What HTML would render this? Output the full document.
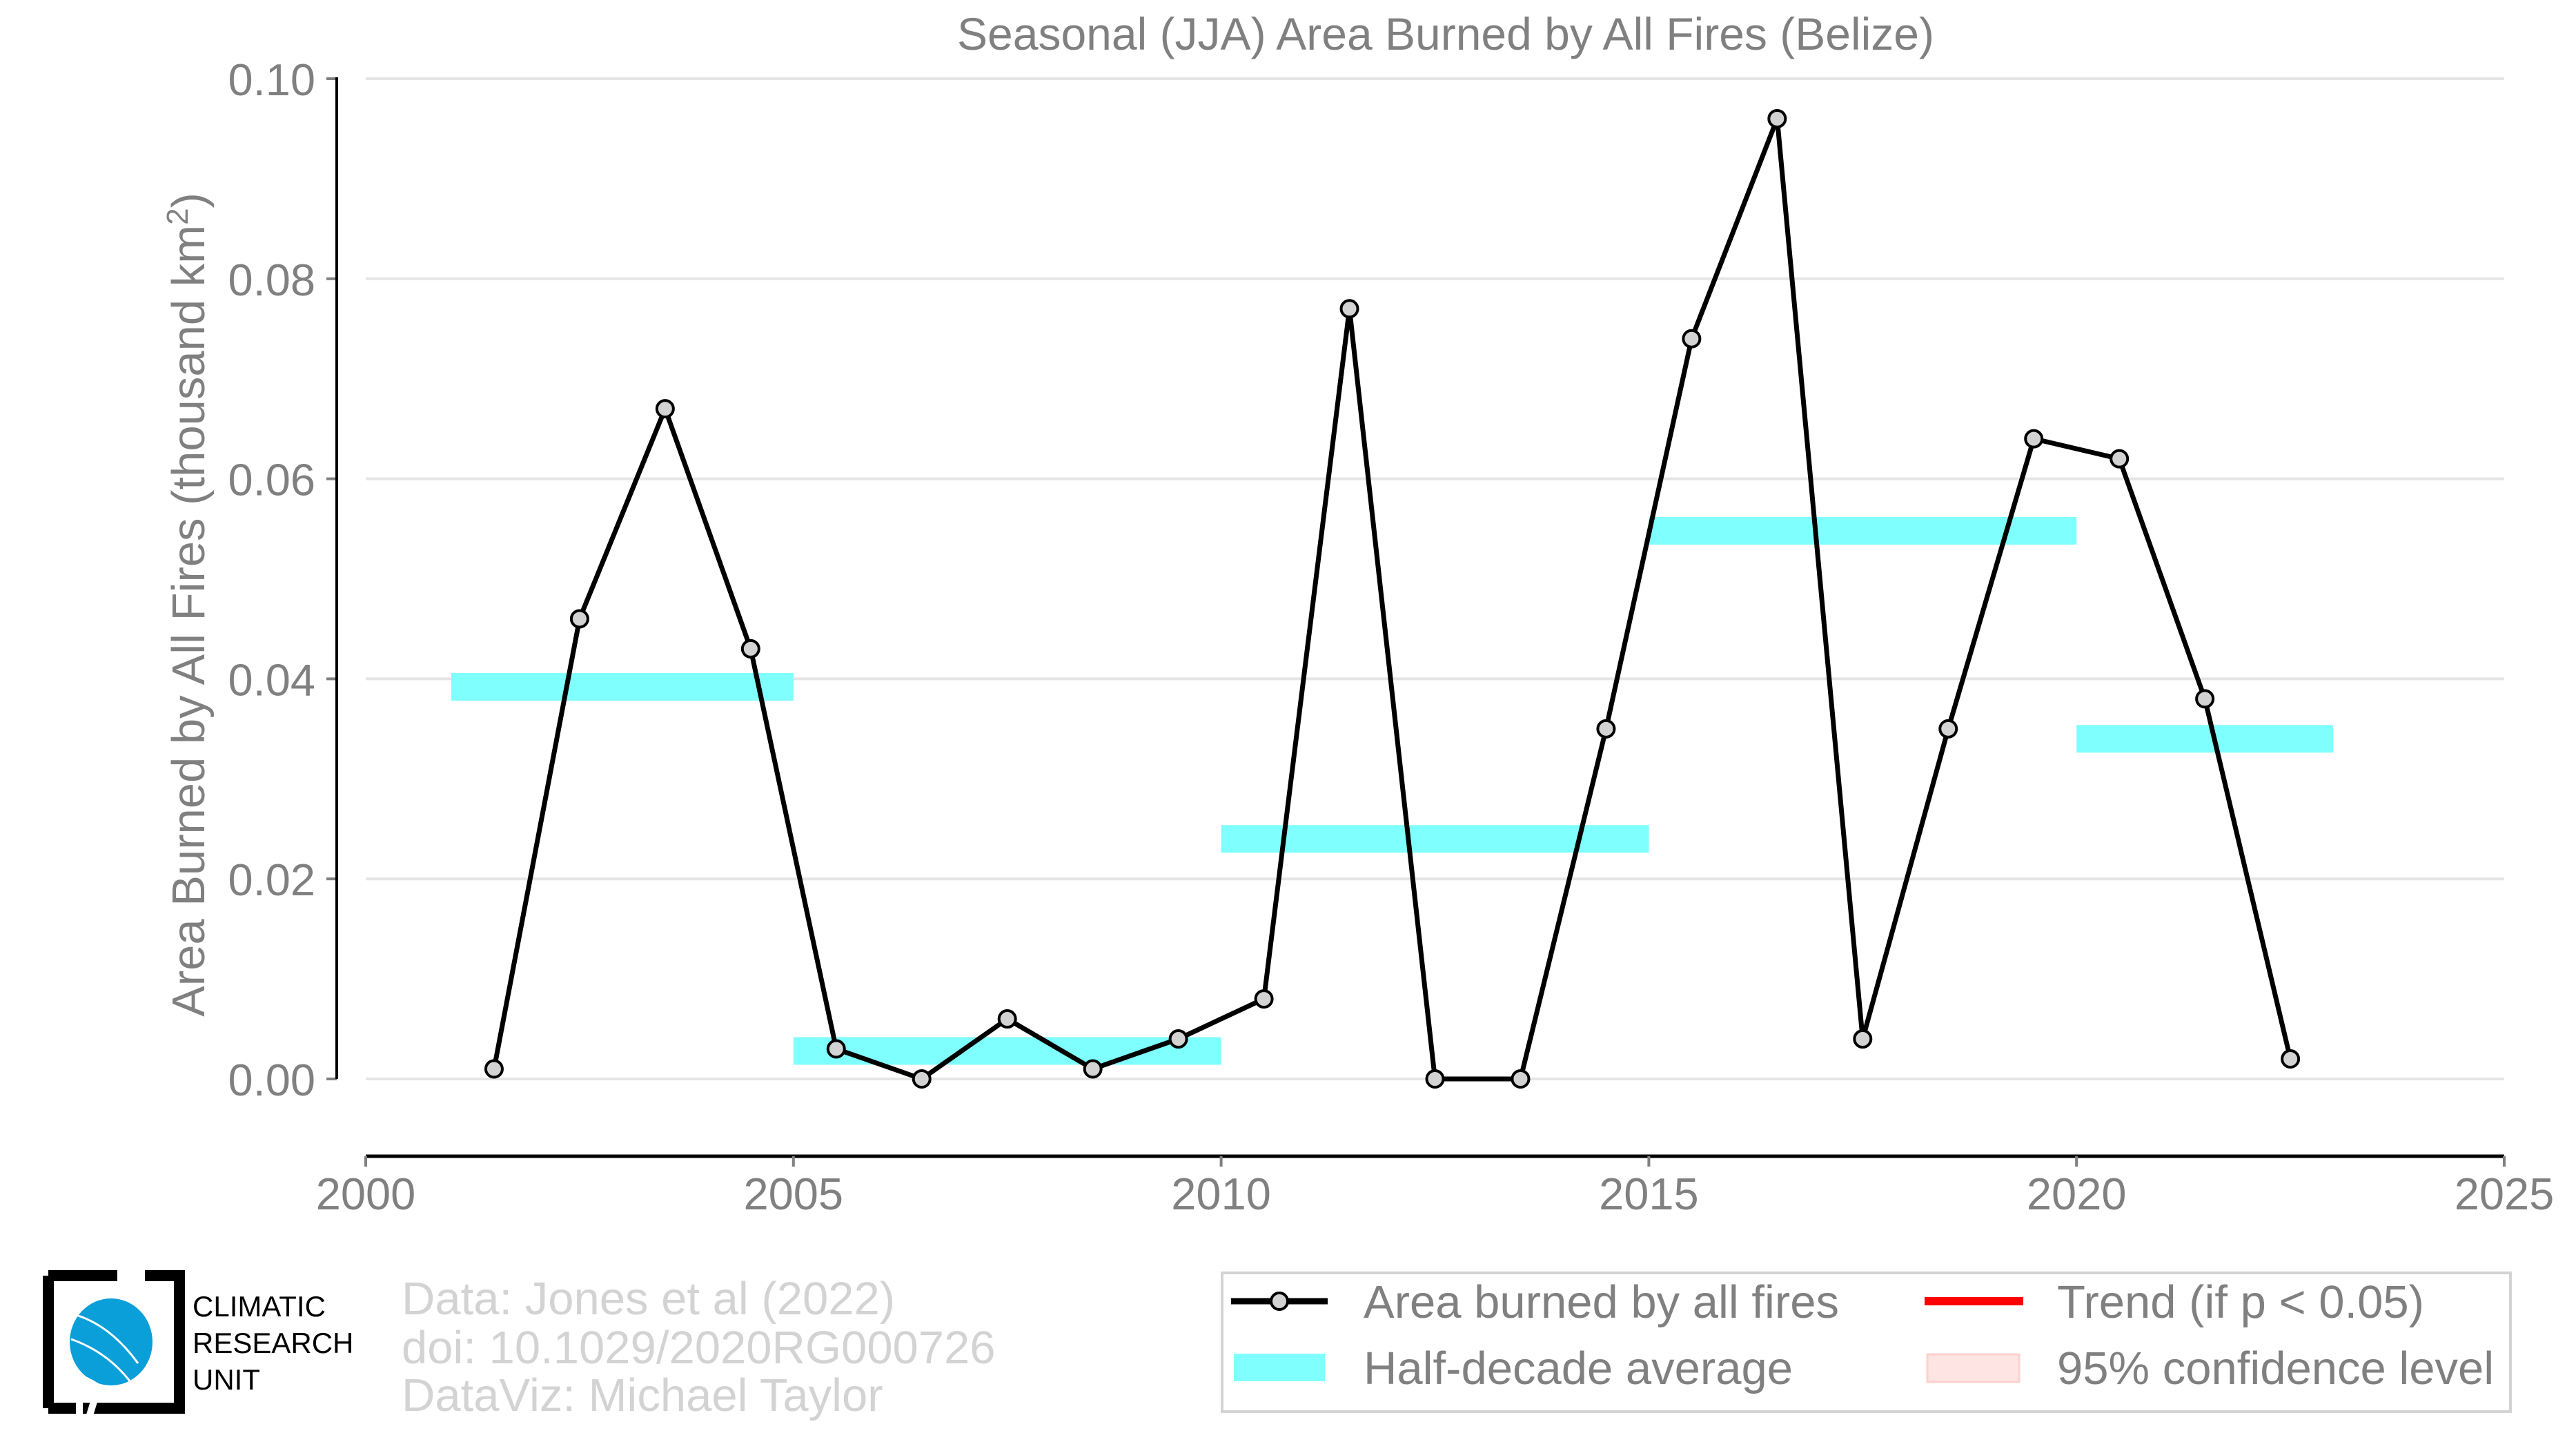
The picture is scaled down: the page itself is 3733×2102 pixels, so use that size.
<!DOCTYPE html>
<html><head><meta charset="utf-8"><style>
html,body{margin:0;padding:0;background:#fff;}
svg{display:block;font-family:"Liberation Sans",sans-serif;}
</style></head><body>
<svg id="chart" width="3733" height="2102" viewBox="0 0 3733 2102" xmlns="http://www.w3.org/2000/svg">
<text x="2095" y="72" font-size="66" fill="#808080" text-anchor="middle">Seasonal (JJA) Area Burned by All Fires (Belize)</text>
<text transform="translate(296,876) rotate(-90)" font-size="67" fill="#808080" text-anchor="middle">Area Burned by All Fires (thousand km<tspan baseline-shift="super" font-size="44">2</tspan>)</text>
<g id="grid"></g>
<g id="bars"></g>
<g id="series"></g>
<g id="axes"></g>
<g>
<path d="M70,1848 H170 M70,1848 V2040 M70,2040 H110 M210,1848 H260 V2040 H120" stroke="#000" stroke-width="16" fill="none"/>
<line x1="195" y1="1838" x2="130" y2="2050" stroke="#fff" stroke-width="10"/>
<ellipse cx="161" cy="1944" rx="60" ry="63" fill="#0a9fd8"/>
<path d="M110,1905 Q160,1920 200,1975 M103,1940 Q160,1960 195,2010 M110,1990 Q140,2000 160,2020" stroke="#fff" stroke-width="3" fill="none"/>
<text x="279" y="1907" font-size="42" fill="#000">CLIMATIC</text>
<text x="279" y="1960" font-size="42" fill="#000">RESEARCH</text>
<text x="279" y="2013" font-size="42" fill="#000">UNIT</text>
</g>
<g font-size="67" fill="#d3d3d3">
<text x="582" y="1904">Data: Jones et al (2022)</text>
<text x="582" y="1975">doi: 10.1029/2020RG000726</text>
<text x="582" y="2044">DataViz: Michael Taylor</text>
</g>
<g>
<rect x="1771" y="1844" width="1867" height="201" fill="#fff" stroke="#d3d3d3" stroke-width="4"/>
<g>
<line x1="1784" y1="1885" x2="1924" y2="1885" stroke="#000" stroke-width="9"/>
<circle cx="1854" cy="1885" r="12" fill="#d3d3d3" stroke="#000" stroke-width="4"/>
<text x="1976" y="1909" font-size="67" fill="#808080">Area burned by all fires</text></g>
<g>
<rect x="1788" y="1961" width="132" height="40" fill="#80ffff"/>
<text x="1976" y="2005" font-size="67" fill="#808080">Half-decade average</text></g>
<g>
<rect x="2789" y="1879" width="143" height="12" fill="#ff0000"/>
<text x="2981" y="1909" font-size="67" fill="#808080">Trend (if p &lt; 0.05)</text></g>
<g>
<rect x="2793" y="1962" width="133" height="40" fill="#ffe4e4" stroke="#ffd0d0" stroke-width="3"/>
<text x="2981" y="2005" font-size="67" fill="#808080">95% confidence level</text></g>
</g>
</svg>
<script>
const years = [2001,2002,2003,2004,2005,2006,2007,2008,2009,2010,2011,2012,2013,2014,2015,2016,2017,2018,2019,2020,2021,2022];
const areaValues = [0.001,0.046,0.067,0.043,0.003,0,0.006,0.001,0.004,0.008,0.077,0,0,0.035,0.074,0.096,0.004,0.035,0.064,0.062,0.038,0.002];
const halfStart = [2001,2005,2010,2015,2020];
const halfEnd = [2005,2010,2015,2020,2023];
const halfValues = [0.0392,0.0028,0.0240,0.0548,0.0340];
const yTicks = [0,0.02,0.04,0.06,0.08,0.10];
const yTickLabels = ["0.00","0.02","0.04","0.06","0.08","0.10"];
const xTicks = [2000,2005,2010,2015,2020,2025];

const NS="http://www.w3.org/2000/svg";
const X0=530,X1=3629,Y0=1563,Y1=114,YAX=488;
function xs(v){return X0+(v-2000)/25*(X1-X0);}
function ys(v){return Y0-(v/0.10)*(Y0-Y1);}
function mk(tag,attrs,parent){const e=document.createElementNS(NS,tag);for(const k in attrs)e.setAttribute(k,attrs[k]);parent.appendChild(e);return e;}
const grid=document.getElementById('grid'),bars=document.getElementById('bars'),series=document.getElementById('series'),axes=document.getElementById('axes');
yTicks.forEach((t,i)=>{
  const g=mk('line',{x1:X0,x2:X1,y1:ys(t),y2:ys(t),stroke:'#e5e5e5','stroke-width':4},grid);
  
  
  const tk=mk('line',{x1:YAX-15,x2:YAX,y1:ys(t),y2:ys(t),stroke:'#808080','stroke-width':4},axes);
  
  
  const tx=mk('text',{x:457,y:ys(t)+24,'font-size':65,fill:'#808080','text-anchor':'end'},axes);
  tx.textContent=yTickLabels[i];
  
  
});
const ya=mk('line',{x1:YAX,x2:YAX,y1:Y1-2,y2:Y0,stroke:'#000','stroke-width':4},axes);


const xa=mk('line',{x1:X0,x2:X1,y1:1675,y2:1675,stroke:'#000','stroke-width':5},axes);


xTicks.forEach(t=>{
  const tk=mk('line',{x1:xs(t),x2:xs(t),y1:1675,y2:1690,stroke:'#808080','stroke-width':4},axes);
  
  
  const tx=mk('text',{x:xs(t),y:1752,'font-size':65,fill:'#808080','text-anchor':'middle'},axes);
  tx.textContent=String(t);
  
  
});
halfValues.forEach((v,i)=>{
  const r=mk('rect',{x:xs(halfStart[i]),y:ys(v)-20,width:xs(halfEnd[i])-xs(halfStart[i]),height:40,fill:'#80ffff'},bars);
  
  
});
const pts=years.map((y,i)=>[xs(y+0.5),ys(areaValues[i])]);
const pl=mk('polyline',{points:pts.map(p=>p.join(',')).join(' '),fill:'none',stroke:'#000','stroke-width':7,'stroke-linejoin':'round'},series);


pts.forEach(p=>{
  const c=mk('circle',{cx:p[0],cy:p[1],r:12,fill:'#d3d3d3',stroke:'#000','stroke-width':4},series);
  
  
});
</script>
</body></html>
